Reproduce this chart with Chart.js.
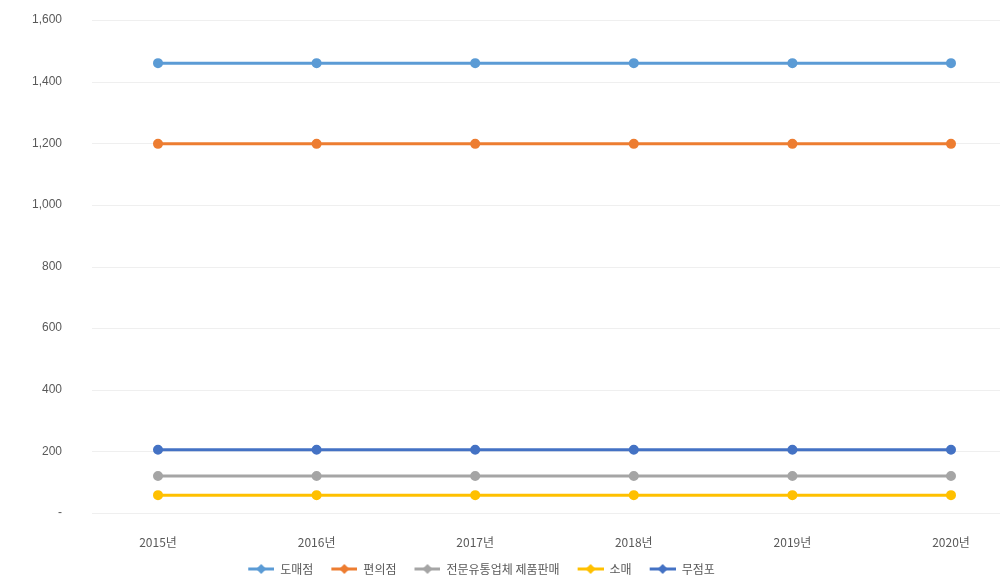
<!DOCTYPE html>
<html>
<head>
<meta charset="utf-8">
<script src="https://cdn.jsdelivr.net/npm/chart.js@4"></script>
<style>
  html, body { margin: 0; padding: 0; background: #fff; }
  #wrap { width: 1006px; height: 585px; }
</style>
</head>
<body>
<div id="wrap"><canvas id="chart" width="1006" height="585"></canvas></div>
<script>
// 데이터
const years = ['2015년', '2016년', '2017년', '2018년', '2019년', '2020년'];
const seriesNames = ['도매점', '편의점', '전문유통업체 제품판매', '소매', '무점포'];
const dosae = [1460, 1460, 1460, 1460, 1460, 1460];
const pyeonui = [1198, 1198, 1198, 1198, 1198, 1198];
const jeonmun = [120, 120, 120, 120, 120, 120];
const somae = [58, 58, 58, 58, 58, 58];
const mujeompo = [205, 205, 205, 205, 205, 205];
const yTicks = [0, 200, 400, 600, 800, 1000, 1200, 1400, 1600];

const colors = ['#5B9BD5', '#ED7D31', '#A5A5A5', '#FFC000', '#4472C4'];
const allData = [dosae, pyeonui, jeonmun, somae, mujeompo];
const font = '"Noto Sans CJK KR", "Noto Sans", sans-serif';

// 범례용 마커 (선 + 마름모), 왼쪽에 여백
function legendMarker(color) {
  const c = document.createElement('canvas');
  c.width = 38; c.height = 10;
  const ctx = c.getContext('2d');
  ctx.strokeStyle = color;
  ctx.lineWidth = 3;
  ctx.beginPath();
  ctx.moveTo(12, 5); ctx.lineTo(38, 5);
  ctx.stroke();
  ctx.fillStyle = color;
  ctx.beginPath();
  ctx.moveTo(25, 0); ctx.lineTo(30, 5); ctx.lineTo(25, 10); ctx.lineTo(20, 5);
  ctx.closePath();
  ctx.fill();
  return c;
}

// 가로 격자선을 플롯 영역 밖까지 그림
const wideGrid = {
  id: 'wideGrid',
  beforeDatasetsDraw(chart) {
    const { ctx, chartArea, scales } = chart;
    ctx.save();
    ctx.strokeStyle = '#efefef';
    ctx.lineWidth = 1;
    yTicks.forEach(v => {
      const y = Math.round(scales.y.getPixelForValue(v)) + 0.5;
      ctx.beginPath();
      ctx.moveTo(chartArea.left - 66, y);
      ctx.lineTo(chartArea.right + 49, y);
      ctx.stroke();
    });
    ctx.restore();
  }
};

new Chart(document.getElementById('chart'), {
  type: 'line',
  data: {
    labels: years,
    datasets: allData.map((d, i) => ({
      label: seriesNames[i],
      data: d,
      borderColor: colors[i],
      backgroundColor: colors[i],
      borderWidth: 3,
      pointRadius: 3.5,
      pointHoverRadius: 3.5,
      pointBackgroundColor: colors[i],
      pointBorderColor: colors[i],
      tension: 0
    }))
  },
  options: {
    responsive: false,
    animation: false,
    layout: { padding: { top: 20, left: 0, right: 55, bottom: 0 } },
    plugins: {
      tooltip: { enabled: false },
      legend: {
        position: 'bottom',
        labels: {
          usePointStyle: true,
          pointStyleWidth: 38,
          boxHeight: 10,
          padding: 6,
          color: '#595959',
          font: { family: font, size: 12 },
          generateLabels(chart) {
            return chart.data.datasets.map((ds, i) => ({
              text: ds.label,
              pointStyle: legendMarker(colors[i]),
              fillStyle: colors[i],
              strokeStyle: colors[i],
              fontColor: '#595959',
              lineWidth: 0,
              datasetIndex: i,
              hidden: false
            }));
          }
        }
      }
    },
    scales: {
      x: {
        offset: false,
        grid: { display: false },
        border: { display: false },
        afterFit(axis) { axis.height = 44; },
        ticks: {
          color: '#595959',
          padding: 14,
          font: { family: font, size: 12 }
        }
      },
      y: {
        min: 0,
        max: 1600,
        grid: { display: false },
        border: { display: false },
        afterBuildTicks(axis) {
          axis.ticks = yTicks.map(v => ({ value: v }));
        },
        afterFit(axis) {
          axis.width = 158;
          axis.paddingTop = 0;
          axis.paddingBottom = 0;
        },
        ticks: {
          color: '#595959',
          padding: 88,
          font: { family: '"Liberation Sans", Arial, sans-serif', size: 12 },
          callback(v) { return v === 0 ? '-' : v.toLocaleString('en-US'); }
        }
      }
    }
  },
  plugins: [wideGrid]
});
</script>
</body>
</html>
